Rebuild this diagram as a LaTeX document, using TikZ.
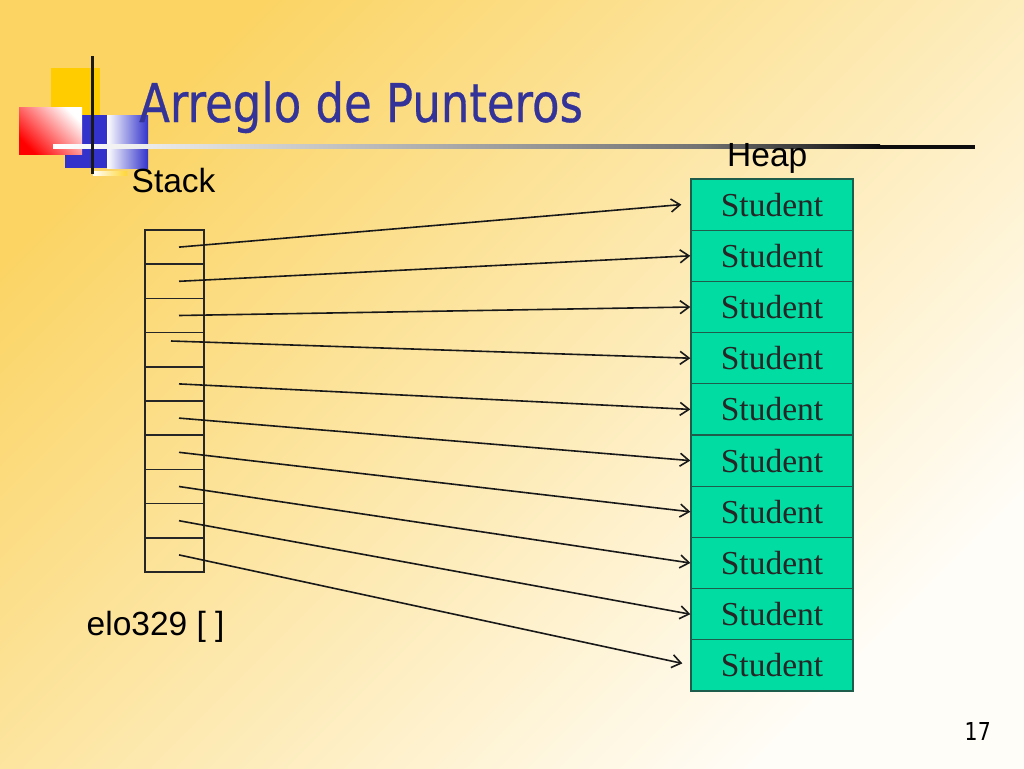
\documentclass[tikz,border=0pt]{standalone}
\usepackage{fontspec}
\setmainfont{Liberation Sans}
\newfontfamily\serifS{Liberation Serif}
\newfontfamily\titlef[FakeBold=0.6]{DejaVu Sans}
\newfontfamily\pagef{DejaVu Sans}
\usetikzlibrary{arrows.meta,calc}
\definecolor{bgA}{HTML}{FBD464}
\definecolor{bgM}{HTML}{FEE8AE}
\definecolor{bgB}{HTML}{FFFDF8}
\definecolor{titleblue}{HTML}{333399}
\definecolor{heapfill}{HTML}{00DCA2}
\definecolor{heapline}{HTML}{1E5C4C}
\definecolor{decoblue}{HTML}{3333CC}
\definecolor{decoyellow}{HTML}{FFCC00}
\begin{document}
\begin{tikzpicture}[x=1pt,y=-1pt,
  stackcell/.style={draw=black!85, line width=1.6pt, minimum width=59pt, minimum height=34.2pt, inner sep=0pt},
  heapcell/.style={draw=heapline, fill=heapfill, line width=1.3pt, minimum width=162pt, minimum height=51.2pt, inner sep=0pt,
    font=\serifS\fontsize{33.5}{36}\selectfont, text=black!85},
  lbl/.style={anchor=base west, inner sep=0pt, font=\fontsize{33.5}{38}\selectfont, text=black},
  ptr/.style={draw=black!90, line width=1.6pt, -{Straight Barb[length=9pt,width=13pt]}}]
\useasboundingbox (0,0) rectangle (1024,768);
\shade[shading=axis, top color=bgA, middle color=bgM, bottom color=bgB, shading angle=45] (0,0) rectangle (1024,768);
% decoration
\fill[decoyellow] (51,68) rectangle (100,116);
\fill[decoblue] (65,115) rectangle (107,168);
\shade[left color=white, right color=decoblue] (107,115) rectangle (148,168);
\shade[shading=axis, top color=white, bottom color=red, shading angle=-45] (19,107) rectangle (82,154);
\shade[left color=white, right color=decoyellow!80] (93,171) rectangle (127,175);
\shade[left color=white, right color=black!55] (53,144.5) rectangle (700,148.5);
\shade[left color=black!55, right color=black!95] (699,144.5) rectangle (880,148.5);
\fill[black!95] (879,144.5) rectangle (975,148.5);
\fill[black!90] (90.5,56) rectangle (93.5,174);
% title and labels
\node[anchor=base west, inner sep=0pt, text=titleblue, font=\titlef\fontsize{53.5}{60}\selectfont] (title) at (139,122) {\scalebox{0.84}[1]{Arreglo de Punteros}};
\node[lbl] (stacklbl) at (131.5,192) {Stack};
\node[lbl] (heaplbl) at (727,166) {Heap};
\node[lbl] (arrlbl) at (86.5,635) {elo329 [ ]};
\node[anchor=base east, inner sep=0pt, font=\pagef\fontsize{24.7}{28}\selectfont] (pg) at (991,740) {\scalebox{0.83}[1]{17}};
% stack
\foreach \i in {0,...,9}{
  \node[stackcell] (s\i) at (174.5,{247.1+34.2*\i}) {};
}
% heap
\foreach \i in {0,...,9}{
  \node[heapcell] (h\i) at (772,{204.6+51.2*\i}) {Student};
}
% pointers
\draw[ptr] ([xshift=4.5pt]s0.center) -- ([xshift=-9pt]h0.west);
\draw[ptr] ([xshift=4.5pt]s1.center) -- (h1.west);
\draw[ptr] ([xshift=4.5pt]s2.center) -- (h2.west);
\draw[ptr] ([xshift=-3.5pt,yshift=8.7pt]s3.center) -- (h3.west);
\draw[ptr] ([xshift=4.5pt]s4.center) -- (h4.west);
\draw[ptr] ([xshift=4.5pt]s5.center) -- (h5.west);
\draw[ptr] ([xshift=4.5pt]s6.center) -- (h6.west);
\draw[ptr] ([xshift=4.5pt]s7.center) -- (h7.west);
\draw[ptr] ([xshift=4.5pt]s8.center) -- (h8.west);
\draw[ptr] ([xshift=4.5pt]s9.center) -- ([xshift=-8pt,yshift=2pt]h9.west);
\end{tikzpicture}
\end{document}
